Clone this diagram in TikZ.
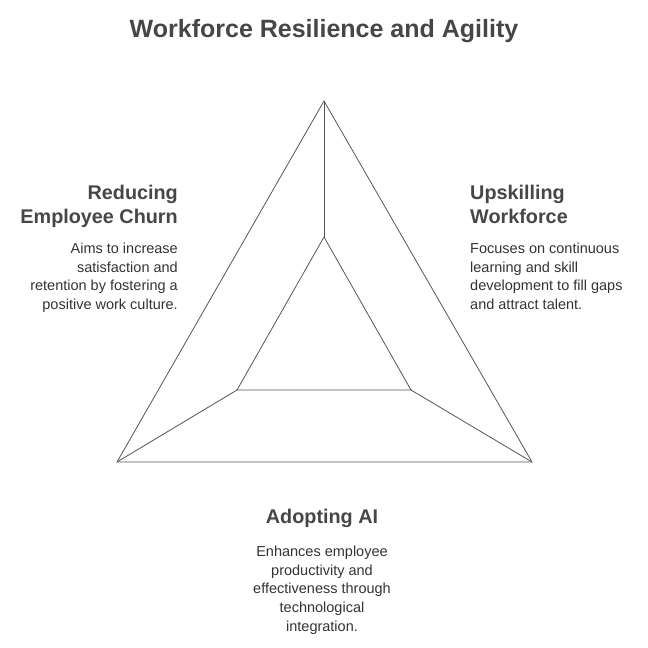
\documentclass[tikz,border=0pt]{standalone}
\usepackage{fontspec}
\setmainfont{Liberation Sans}
\usetikzlibrary{positioning}
\definecolor{wfline}{RGB}{85,85,85}
\definecolor{wfhead}{RGB}{70,70,70}
\definecolor{wftext}{RGB}{51,51,51}
\tikzset{
  edge/.style={draw=wfline, line width=0.8pt},
  heading/.style={font=\fontsize{19.8}{24}\selectfont\bfseries, text=wfhead, inner sep=0pt},
  blurb/.style={font=\fontsize{14.5}{18.6}\selectfont, text=wftext, inner sep=0pt}
}
\begin{document}
\begin{tikzpicture}[x=1pt, y=-1pt]
\useasboundingbox (0,0) rectangle (648,648);
% Outer and inner triangle corners
\coordinate (otop) at (324,101);
\coordinate (oleft) at (117,462);
\coordinate (oright) at (532,462);
\coordinate (itop) at (324,237);
\coordinate (ileft) at (237,390);
\coordinate (iright) at (411,390);
% Triangles
\draw[edge] (otop) -- (oright) -- (oleft) -- cycle;
\draw[edge] (itop) -- (iright) -- (ileft) -- cycle;
\foreach \c in {top,left,right} {
  \draw[edge] (o\c) -- (i\c);
}
% Title
\node[font=\fontsize{25}{30}\selectfont\bfseries, text=wfhead, inner sep=0pt] (title) at (324,31) {Workforce Resilience and Agility};
% Reducing Employee Churn
\node[heading, align=right, anchor=north east] (churn) at (178,185) {Reducing\\Employee Churn};
\node[blurb, align=right, anchor=north east] (churntext) at (178,243) {Aims to increase\\satisfaction and\\retention by fostering a\\positive work culture.};
% Upskilling Workforce
\node[heading, align=left, anchor=north west] (upskill) at (470,185) {Upskilling\\Workforce};
\node[blurb, align=left, anchor=north west] (upskilltext) at (470,243) {Focuses on continuous\\learning and skill\\development to fill gaps\\and attract talent.};
% Adopting AI
\node[heading, align=center, anchor=north] (adopt) at (322,509) {Adopting AI};
\node[blurb, align=center, anchor=north] (adopttext) at (322,546) {Enhances employee\\productivity and\\effectiveness through\\technological\\integration.};
\end{tikzpicture}
\end{document}
